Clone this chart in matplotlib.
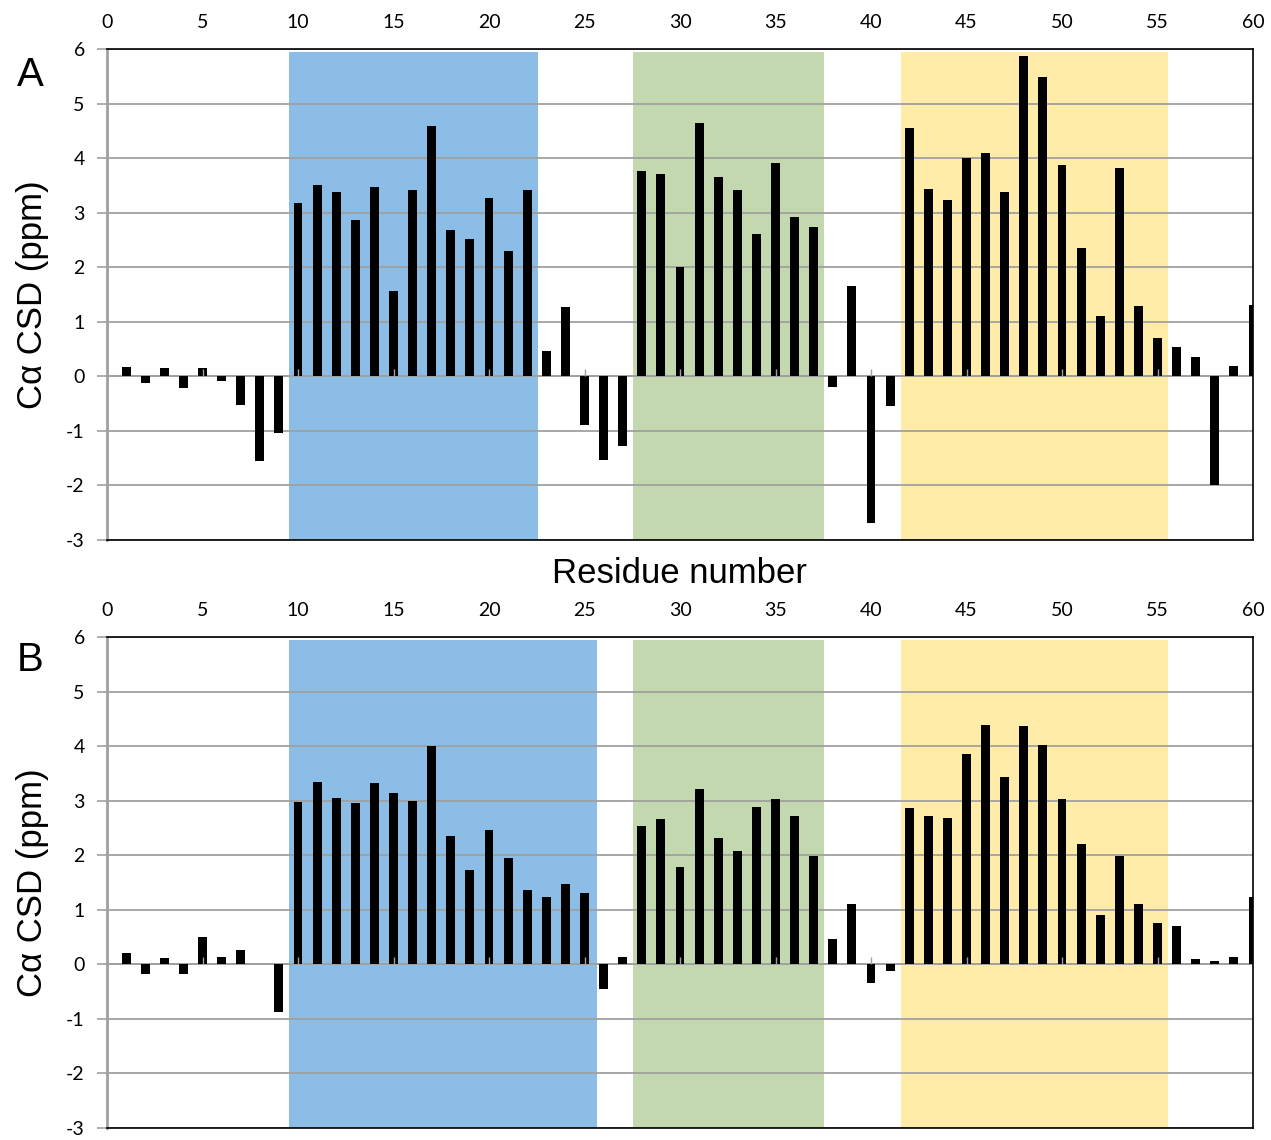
import matplotlib
matplotlib.use("Agg")
import matplotlib.pyplot as plt
import numpy as np

plt.rcParams["axes.unicode_minus"] = False

# Residue numbers and C-alpha chemical shift deviations (ppm)
residues = list(range(1, 61))

csd_a = [0.18, -0.13, 0.16, -0.21, 0.16, -0.08, -0.52, -1.56, -1.03, 3.17,
         3.51, 3.38, 2.86, 3.47, 1.57, 3.42, 4.58, 2.69, 2.51, 3.27,
         2.30, 3.42, 0.47, 1.28, -0.89, -1.53, -1.27, 3.76, 3.71, 2.01,
         4.64, 3.65, 3.42, 2.61, 3.91, 2.92, 2.73, -0.20, 1.66, -2.69,
         -0.55, 4.56, 3.43, 3.24, 4.00, 4.10, 3.38, 5.88, 5.49, 3.87,
         2.35, 1.11, 3.82, 1.29, 0.70, 0.54, 0.36, -2.00, 0.19, 1.31]

csd_b = [0.20, -0.17, 0.11, -0.17, 0.50, 0.13, 0.26, 0.00, -0.88, 2.98,
         3.35, 3.05, 2.95, 3.33, 3.14, 2.99, 4.00, 2.35, 1.72, 2.46,
         1.94, 1.37, 1.24, 1.48, 1.30, -0.46, 0.13, 2.54, 2.67, 1.78,
         3.22, 2.31, 2.08, 2.89, 3.03, 2.71, 1.98, 0.46, 1.10, -0.35,
         -0.12, 2.86, 2.71, 2.69, 3.85, 4.39, 3.44, 4.37, 4.02, 3.03,
         2.21, 0.91, 1.99, 1.10, 0.76, 0.70, 0.10, 0.07, 0.13, 1.24]

# Highlighted segments (start, end) for each panel
regions_a = [(9.55, 22.55), (27.55, 37.55), (41.55, 55.55)]
regions_b = [(9.55, 25.65), (27.55, 37.55), (41.55, 55.55)]
region_colors = ["#8bbde6", "#c4d8af", "#ffeca8"]

x_ticks = list(range(0, 61, 5))
y_ticks = list(range(-3, 7))

TICK_FONT = "Lato"
LABEL_FONT = "Liberation Sans"
GRID_GRAY = "#a0a0a0"

W, H = 1271, 1140
fig = plt.figure(figsize=(W / 100, H / 100), dpi=100)


def make_panel(rect, values, regions, show_xlabel):
    ax = fig.add_axes(rect)
    ax.set_xlim(0, 60)
    ax.set_ylim(-3, 6)

    # shaded secondary-structure bands
    for (x0, x1), col in zip(regions, region_colors):
        ax.fill_between([x0, x1], -3, 5.95, color=col, lw=0, zorder=0)

    # horizontal gridlines
    ax.set_yticks(y_ticks)
    ax.yaxis.grid(True, color=GRID_GRAY, lw=1.3, zorder=1)
    ax.set_axisbelow(True)

    ax.bar(residues, values, width=0.47, color="black", zorder=3)

    # zero line with small tick marks at the labelled positions
    ax.axhline(0, color=GRID_GRAY, lw=1.3, zorder=2)
    ax.vlines(x_ticks, 0, 0.13, color=GRID_GRAY, lw=1.0, zorder=4)

    # x labels on top, no tick marks there
    ax.set_xticks(x_ticks)
    ax.xaxis.tick_top()
    ax.tick_params(axis="x", length=0, pad=13, labelsize=14)
    ax.tick_params(axis="y", length=7, width=1.2, color=GRID_GRAY,
                   pad=9, labelsize=14, direction="out")
    for lab in ax.get_xticklabels() + ax.get_yticklabels():
        lab.set_fontfamily(TICK_FONT)

    for side in ("top", "right", "bottom"):
        ax.spines[side].set_color("black")
        ax.spines[side].set_linewidth(1.2)
        ax.spines[side].set_zorder(5)
    ax.spines["left"].set_color(GRID_GRAY)
    ax.spines["left"].set_linewidth(2.0)

    ax.set_ylabel("C\u03b1 CSD (ppm)", fontsize=25, family=LABEL_FONT, labelpad=12)
    if show_xlabel:
        ax.set_xlabel("Residue number", fontsize=25, family=LABEL_FONT, labelpad=12)
    return ax


ax_a = make_panel([107 / W, 1 - 540 / H, (1253 - 107) / W, 491 / H],
                  csd_a, regions_a, True)
ax_b = make_panel([107 / W, 1 - 1128 / H, (1253 - 107) / W, 491 / H],
                  csd_b, regions_b, False)

fig.text(30 / W, 1 - 75 / H, "A", fontsize=29, family=LABEL_FONT,
         ha="center", va="center")
fig.text(30 / W, 1 - 660 / H, "B", fontsize=29, family=LABEL_FONT,
         ha="center", va="center")

fig.savefig("out.png", dpi=100)
